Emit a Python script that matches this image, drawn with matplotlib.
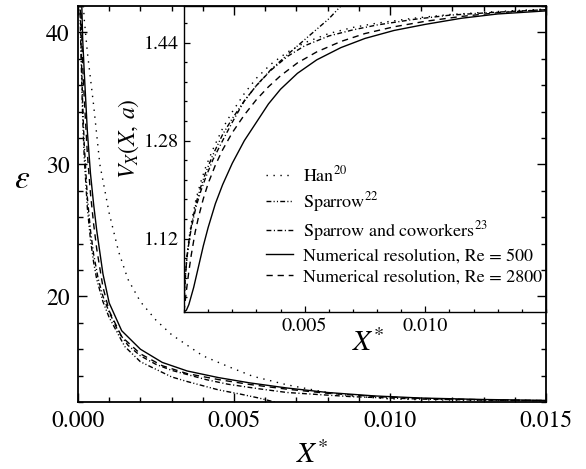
import matplotlib
matplotlib.use("Agg")
import matplotlib.pyplot as plt
from matplotlib.ticker import MultipleLocator, FixedLocator, FixedFormatter

plt.rcParams['font.family'] = ['STIXGeneral', 'DejaVu Serif']
plt.rcParams['mathtext.fontset'] = 'stix'

# ---------------- main chart data: epsilon vs X* ----------------
han_x = [0.00015, 0.0002, 0.0003, 0.0005, 0.0007, 0.001, 0.0013, 0.0016, 0.002, 0.0025,
         0.003, 0.0035, 0.004, 0.0048, 0.0056, 0.0067, 0.0078, 0.0088, 0.0099, 0.011, 0.013, 0.015]
han_y = [43.0, 41.0, 38.5, 34.5, 30.0, 26.3, 23.4, 21.3, 19.6, 18.2,
         17.1, 16.3, 15.5, 14.7, 13.95, 13.3, 12.8, 12.45, 12.25, 12.17, 12.12, 12.1]

sp22_x = [0.00005, 0.0001, 0.00015, 0.0002, 0.0003, 0.0004, 0.0005, 0.0006, 0.0008, 0.001,
          0.0015, 0.002, 0.003, 0.0035, 0.0045, 0.0052, 0.0058, 0.0063, 0.0068]
sp22_y = [43.0, 38.0, 33.5, 30.5, 26.7, 24.3, 22.6, 21.3, 19.6, 18.4,
          16.2, 15.05, 13.9, 13.55, 12.92, 12.6, 12.3, 12.0, 11.7]

sp23_x = [0.00005, 0.0001, 0.00015, 0.0002, 0.0003, 0.0004, 0.0005, 0.00065, 0.0008, 0.001,
          0.0013, 0.0016, 0.002, 0.0025, 0.003, 0.0041, 0.0048, 0.0058, 0.0067, 0.0078,
          0.0088, 0.011, 0.013, 0.015]
sp23_y = [44.0, 39.0, 34.5, 31.5, 27.5, 25.0, 23.2, 21.3, 20.0, 18.8,
          17.3, 16.3, 15.5, 14.85, 14.4, 13.7, 13.35, 13.0, 12.72, 12.55,
          12.4, 12.22, 12.14, 12.1]

re500_x = [0.0001, 0.00015, 0.0002, 0.0003, 0.0004, 0.0005, 0.0006, 0.0008, 0.001, 0.0014,
           0.002, 0.0027, 0.0035, 0.0045, 0.0055, 0.0067, 0.008, 0.0095, 0.011, 0.013, 0.015]
re500_y = [44.0, 39.5, 37.0, 32.5, 29.3, 27.0, 25.0, 21.7, 19.5, 17.4,
           16.0, 15.0, 14.35, 13.85, 13.45, 13.06, 12.72, 12.46, 12.3, 12.19, 12.12]

re2800_x = [0.0001, 0.00015, 0.0002, 0.0003, 0.0004, 0.0005, 0.0006, 0.0008, 0.001, 0.0014,
            0.002, 0.0027, 0.0035, 0.0045, 0.0055, 0.0067, 0.008, 0.0095, 0.011, 0.013, 0.015]
re2800_y = [41.5, 37.5, 35.0, 30.8, 27.8, 25.5, 23.6, 20.7, 18.9, 16.95,
            15.65, 14.75, 14.15, 13.7, 13.33, 12.97, 12.66, 12.42, 12.27, 12.17, 12.11]

# ---------------- inset data: V_X(X, a) vs X* ----------------
ihan_x = [0, 0.00003, 0.00007, 0.00012, 0.0002, 0.0003, 0.0005, 0.0007, 0.0009, 0.0012,
          0.0016, 0.002, 0.0025, 0.003, 0.0036, 0.0043, 0.005, 0.006, 0.007, 0.008,
          0.0095, 0.011, 0.013, 0.015]
ihan_y = [1.0, 1.04, 1.065, 1.09, 1.118, 1.145, 1.185, 1.213, 1.237, 1.266,
          1.3, 1.327, 1.357, 1.382, 1.405, 1.425, 1.44, 1.455, 1.465, 1.472,
          1.48, 1.486, 1.491, 1.495]

isp22_x = [0, 0.00003, 0.00007, 0.00012, 0.0002, 0.0003, 0.0005, 0.0007, 0.0009, 0.0012,
           0.0016, 0.002, 0.0025, 0.003, 0.0036, 0.0043, 0.005, 0.0055, 0.006, 0.0065, 0.007]
isp22_y = [1.0, 1.04, 1.065, 1.089, 1.115, 1.14, 1.178, 1.205, 1.228, 1.257,
           1.29, 1.316, 1.345, 1.37, 1.396, 1.421, 1.445, 1.462, 1.479, 1.5, 1.522]

isp23_x = [0, 0.00003, 0.00007, 0.00012, 0.0002, 0.0003, 0.0005, 0.0007, 0.0009, 0.0012,
           0.0016, 0.002, 0.0025, 0.003, 0.0036, 0.0043, 0.005, 0.006, 0.007, 0.008,
           0.0095, 0.011, 0.013, 0.015]
isp23_y = [1.0, 1.04, 1.065, 1.088, 1.112, 1.137, 1.172, 1.198, 1.22, 1.249,
           1.28, 1.31, 1.345, 1.37, 1.395, 1.418, 1.435, 1.451, 1.461, 1.469,
           1.478, 1.485, 1.49, 1.494]

ire500_x = [0, 0.0001, 0.0002, 0.0004, 0.0006, 0.0008, 0.001, 0.0013, 0.0016, 0.002,
            0.0025, 0.003, 0.0035, 0.004, 0.0047, 0.0055, 0.0065, 0.0075, 0.0087, 0.01,
            0.0115, 0.013, 0.015]
ire500_y = [1.0, 1.003, 1.012, 1.04, 1.074, 1.108, 1.138, 1.177, 1.208, 1.243,
            1.28, 1.31, 1.34, 1.364, 1.39, 1.412, 1.432, 1.447, 1.46, 1.47,
            1.48, 1.487, 1.492]

ire2800_x = [0, 0.00005, 0.0001, 0.0002, 0.0003, 0.00046, 0.0006, 0.0008, 0.001, 0.0013,
             0.0016, 0.002, 0.0025, 0.003, 0.0035, 0.004, 0.0047, 0.0055, 0.0065, 0.0075,
             0.0087, 0.01, 0.0115, 0.013, 0.015]
ire2800_y = [1.0, 1.018, 1.035, 1.066, 1.093, 1.13, 1.155, 1.185, 1.21, 1.24,
             1.265, 1.293, 1.322, 1.347, 1.368, 1.386, 1.407, 1.425, 1.442, 1.455,
             1.466, 1.475, 1.483, 1.489, 1.494]

labels = [r'Han$^{20}$', r'Sparrow$^{22}$', r'Sparrow and coworkers$^{23}$',
          'Numerical resolution, Re = 500', 'Numerical resolution, Re = 2800']

main_xticks = [0.0, 0.005, 0.010, 0.015]
main_xticklabels = ['0.000', '0.005', '0.010', '0.015']
main_yticks = [20, 30, 40]
inset_xticks = [0.005, 0.010]
inset_xticklabels = ['0.005', '0.010']
inset_yticks = [1.12, 1.28, 1.44]
inset_yticklabels = ['1.12', '1.28', '1.44']
inset_yminor = [1.024, 1.056, 1.088, 1.152, 1.184, 1.216, 1.248, 1.312, 1.344, 1.376,
                1.408, 1.472]

# ---------------- styles ----------------
ls_dot = (0, (1, 4))
ls_dd = (0, (3.5, 1.6, 0.8, 1.6, 0.8, 1.6))
ls_dashdot = (0, (3.5, 1.8, 0.8, 1.8))
ls_dash = (0, (4.5, 3.5))
lw = 1.0

W, H = 586, 469
fig = plt.figure(figsize=(W / 100, H / 100), dpi=100)

ax = fig.add_axes([78 / W, 1 - 402 / H, (546 - 78) / W, (402 - 6) / H])
ax.plot(han_x, han_y, color='black', lw=lw, ls=ls_dot)
ax.plot(sp22_x, sp22_y, color='black', lw=lw, ls=ls_dd)
ax.plot(sp23_x, sp23_y, color='black', lw=lw, ls=ls_dashdot)
ax.plot(re500_x, re500_y, color='black', lw=lw, ls='-')
ax.plot(re2800_x, re2800_y, color='black', lw=lw, ls=ls_dash)
ax.set_xlim(0, 0.015)
ax.set_ylim(12, 42)
ax.xaxis.set_major_locator(FixedLocator(main_xticks))
ax.xaxis.set_major_formatter(FixedFormatter(main_xticklabels))
ax.xaxis.set_minor_locator(MultipleLocator(0.001))
ax.yaxis.set_major_locator(FixedLocator(main_yticks))
ax.yaxis.set_minor_locator(MultipleLocator(2))
ax.tick_params(which='both', direction='in', top=True, right=True, width=1.0)
ax.tick_params(which='major', length=6.5, labelsize=17, pad=6)
ax.tick_params(which='minor', length=3.6)
for s in ax.spines.values():
    s.set_linewidth(1.3)
ax.set_xlabel(r'$X^{*}$', fontsize=21, labelpad=7)
ax.set_ylabel(r'$\varepsilon$', fontsize=24, rotation=0, va='center', ha='center')
ax.yaxis.set_label_coords(-0.12, 0.56)

ins = fig.add_axes([184 / W, 1 - 312 / H, (546 - 184) / W, (312 - 6) / H])
ins.patch.set_facecolor('none')
h1, = ins.plot(ihan_x, ihan_y, color='black', lw=lw, ls=ls_dot)
h2, = ins.plot(isp22_x, isp22_y, color='black', lw=lw, ls=ls_dd)
h3, = ins.plot(isp23_x, isp23_y, color='black', lw=lw, ls=ls_dashdot)
h4, = ins.plot(ire500_x, ire500_y, color='black', lw=lw, ls='-')
h5, = ins.plot(ire2800_x, ire2800_y, color='black', lw=lw, ls=ls_dash)
ins.set_xlim(0, 0.015)
ins.set_ylim(1.0, 1.5)
ins.xaxis.set_major_locator(FixedLocator(inset_xticks))
ins.xaxis.set_major_formatter(FixedFormatter(inset_xticklabels))
ins.xaxis.set_minor_locator(MultipleLocator(0.001))
ins.yaxis.set_major_locator(FixedLocator(inset_yticks))
ins.yaxis.set_major_formatter(FixedFormatter(inset_yticklabels))
ins.yaxis.set_minor_locator(FixedLocator(inset_yminor))
ins.tick_params(which='both', direction='in', top=False, right=False, width=0.9)
ins.tick_params(which='major', length=4, labelsize=14.5, pad=4)
ins.tick_params(which='minor', length=2.2)
for s in ins.spines.values():
    s.set_linewidth(1.0)
ins.set_xlabel(r'$X^{*}$', fontsize=21)
ins.xaxis.set_label_coords(0.51, -0.055)
ins.set_ylabel(r'$V_X(X,\, a)$', fontsize=17)
ins.yaxis.set_label_coords(-0.12, 0.565)

leg = ins.legend([h1, h2, h3, h4, h5], labels, loc='upper left',
                 bbox_to_anchor=(266 / W, 1 - 165 / H), bbox_transform=fig.transFigure,
                 frameon=False, fontsize=13, handlelength=1.5, handletextpad=0.55,
                 labelspacing=0.27, borderpad=0, borderaxespad=0)

fig.savefig('out.png', dpi=100)
